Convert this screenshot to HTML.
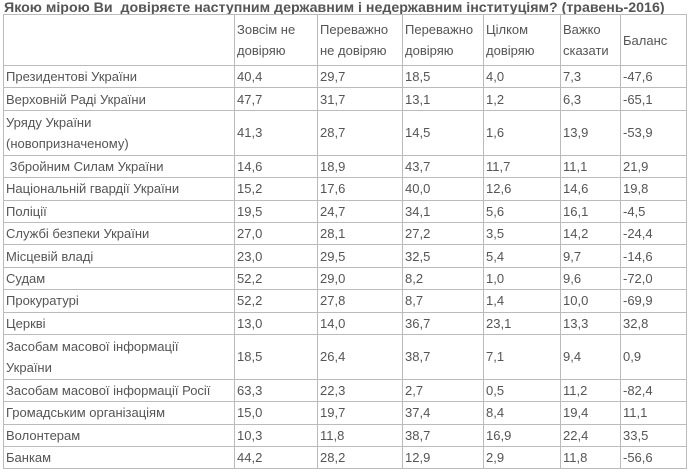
<!DOCTYPE html>
<html><head><meta charset="utf-8"><style>
body{margin:0;background:#fff;width:690px;height:476px;overflow:hidden;font-family:"Liberation Sans","DejaVu Sans",sans-serif;color:#555}
.t{position:absolute;left:4px;top:0px;font-size:14.2px;line-height:16px;font-weight:bold;color:#555;white-space:nowrap}
table{position:absolute;left:3px;top:14px;border-collapse:collapse;border:1px solid #777;table-layout:fixed;font-size:13px;line-height:21px}
td{border:1px solid #bbb;padding:0 0 0 2px;vertical-align:middle;white-space:nowrap;overflow:hidden}
tr{height:22.4px}
tr.d{height:45px}
tr.h{height:51px}
</style></head><body>
<div class="t">Якою мірою Ви&nbsp; довіряєте наступним державним і недержавним інституціям? (травень-2016)</div>
<table>
<colgroup><col style="width:231px"><col style="width:83px"><col style="width:85px"><col style="width:81px"><col style="width:77px"><col style="width:60px"><col style="width:66px"></colgroup>
<tr class="h"><td></td><td>Зовсім не<br>довіряю</td><td>Переважно<br>не довіряю</td><td>Переважно<br>довіряю</td><td>Цілком<br>довіряю</td><td>Важко<br>сказати</td><td>Баланс</td></tr>
<tr><td>Президентові України</td><td>40,4</td><td>29,7</td><td>18,5</td><td>4,0</td><td>7,3</td><td>-47,6</td></tr>
<tr><td>Верховній Раді України</td><td>47,7</td><td>31,7</td><td>13,1</td><td>1,2</td><td>6,3</td><td>-65,1</td></tr>
<tr class="d"><td>Уряду України<br>(новопризначеному)</td><td>41,3</td><td>28,7</td><td>14,5</td><td>1,6</td><td>13,9</td><td>-53,9</td></tr>
<tr><td>&nbsp;Збройним Силам України</td><td>14,6</td><td>18,9</td><td>43,7</td><td>11,7</td><td>11,1</td><td>21,9</td></tr>
<tr><td>Національній гвардії України</td><td>15,2</td><td>17,6</td><td>40,0</td><td>12,6</td><td>14,6</td><td>19,8</td></tr>
<tr><td>Поліції</td><td>19,5</td><td>24,7</td><td>34,1</td><td>5,6</td><td>16,1</td><td>-4,5</td></tr>
<tr><td>Службі безпеки України</td><td>27,0</td><td>28,1</td><td>27,2</td><td>3,5</td><td>14,2</td><td>-24,4</td></tr>
<tr><td>Місцевій владі</td><td>23,0</td><td>29,5</td><td>32,5</td><td>5,4</td><td>9,7</td><td>-14,6</td></tr>
<tr><td>Судам</td><td>52,2</td><td>29,0</td><td>8,2</td><td>1,0</td><td>9,6</td><td>-72,0</td></tr>
<tr><td>Прокуратурі</td><td>52,2</td><td>27,8</td><td>8,7</td><td>1,4</td><td>10,0</td><td>-69,9</td></tr>
<tr><td>Церкві</td><td>13,0</td><td>14,0</td><td>36,7</td><td>23,1</td><td>13,3</td><td>32,8</td></tr>
<tr class="d"><td>Засобам масової інформації<br>України</td><td>18,5</td><td>26,4</td><td>38,7</td><td>7,1</td><td>9,4</td><td>0,9</td></tr>
<tr><td>Засобам масової інформації Росії</td><td>63,3</td><td>22,3</td><td>2,7</td><td>0,5</td><td>11,2</td><td>-82,4</td></tr>
<tr><td>Громадським організаціям</td><td>15,0</td><td>19,7</td><td>37,4</td><td>8,4</td><td>19,4</td><td>11,1</td></tr>
<tr><td>Волонтерам</td><td>10,3</td><td>11,8</td><td>38,7</td><td>16,9</td><td>22,4</td><td>33,5</td></tr>
<tr><td>Банкам</td><td>44,2</td><td>28,2</td><td>12,9</td><td>2,9</td><td>11,8</td><td>-56,6</td></tr>
</table>
</body></html>
